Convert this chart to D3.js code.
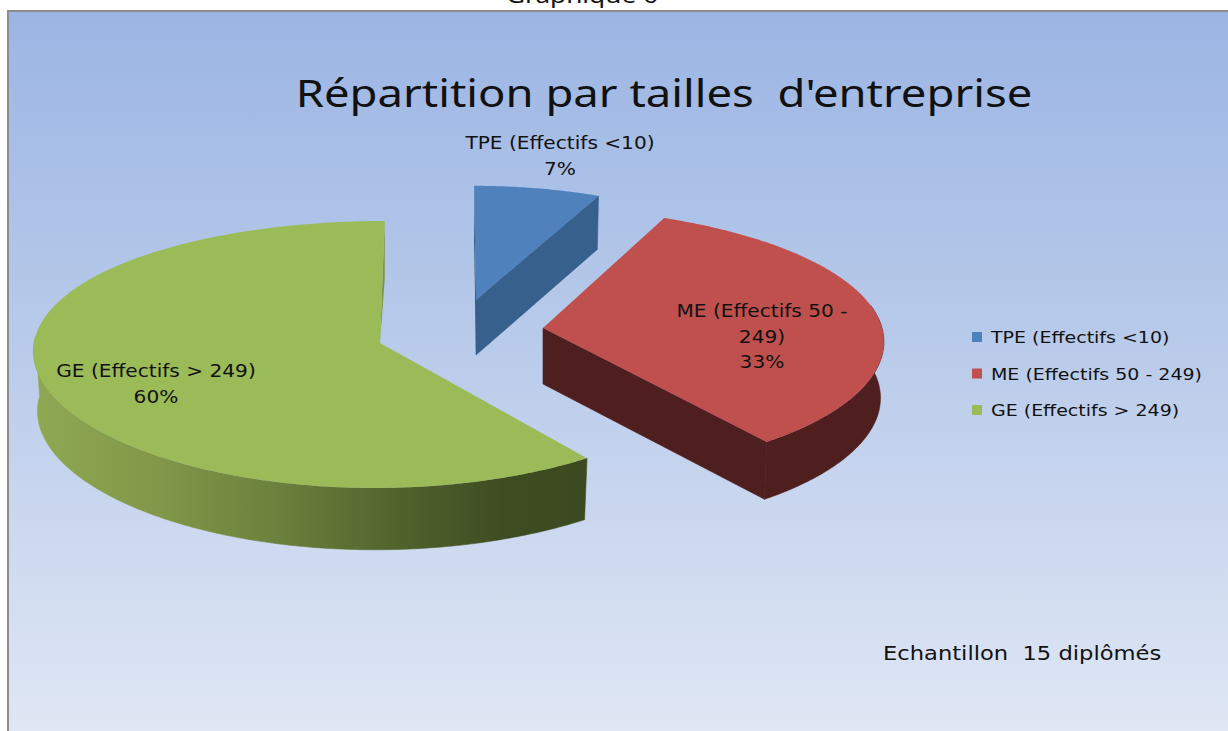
<!DOCTYPE html>
<html><head><meta charset="utf-8">
<script src="https://cdn.jsdelivr.net/npm/d3@7"></script>
<style>
html,body{margin:0;padding:0;background:#fff;overflow:hidden}
svg{display:block}
text{white-space:pre;fill:#111}
</style></head><body>
<svg id="c" width="1228" height="731"></svg>
<script>
const categories = ["TPE (Effectifs <10)", "ME (Effectifs 50 - 249)", "GE (Effectifs > 249)"];
const values = [7, 33, 60];
const labelLines = [["TPE (Effectifs <10)"], ["ME (Effectifs 50 -", "249)"], ["GE (Effectifs > 249)"]];
const topColors = ["#4f81bd", "#c0504d", "#9bbb59"];
const wallColors = ["#38608c", "#4e1f1e", "url(#geWall)"];
const titleText = "Répartition par tailles  d'entreprise";
const captionText = "Graphique 6";
const noteText = "Echantillon  15 diplômés";

const W = 1228, H = 731;
const svg = d3.select("#c");
const defs = svg.append("defs");
const bg = defs.append("linearGradient").attr("id","bg").attr("x1",0).attr("x2",0).attr("y1",0).attr("y2",1);
[[0,"#9bb5e3"],[0.5,"#bccdeb"],[1,"#e1e8f5"]].forEach(s=>bg.append("stop").attr("offset",s[0]).attr("stop-color",s[1]));
const gw = defs.append("linearGradient").attr("id","geWall").attr("gradientUnits","userSpaceOnUse")
  .attr("x1",35).attr("x2",590).attr("y1",0).attr("y2",0);
[[0,"#8fa852"],[0.2,"#83994a"],[0.45,"#6a7f3b"],[0.7,"#4c5d2a"],[0.85,"#3e4c21"],[1,"#3d4a21"]].forEach(s=>gw.append("stop").attr("offset",s[0]).attr("stop-color",s[1]));

svg.append("rect").attr("x",8).attr("y",11).attr("width",W).attr("height",H)
  .attr("fill","url(#bg)").attr("stroke","#8c8c8c").attr("stroke-width",2);

// text drawn wider than the font's natural width, as in the reference
function wideText(x, y, str, family, size, stretch, anchor){
  const t = svg.append("text").attr("x",x).attr("y",y).attr("text-anchor",anchor||"start")
    .attr("font-family",family).attr("font-size",size).text(str);
  const w = t.node().getComputedTextLength();
  t.attr("textLength",w*stretch).attr("lengthAdjust","spacingAndGlyphs");
  return t;
}
wideText(582,3,captionText,"Noto Sans",22,1.19,"middle");
wideText(664,107,titleText,"Noto Sans",39,1.165,"middle");

// one layout per slice: exploded apex and its perspective size
const layout = [
  {ax:476, ay:300, R:304, Ry:124,   k:0.086, kx:0.046, skew:-2,  depth:55, f:0.99,  wallFrom:90},
  {ax:543, ay:328, R:339, Ry:131,   k:0.086, kx:0.046, skew:-20, depth:56, f:0.99,  wallFrom:80},
  {ax:380, ay:343, R:346, Ry:132.5, k:0.086, kx:0.046, skew:5,   depth:60, f:0.988, wallFrom:90}
];
const pie = d3.pie().sort(null).value(d=>d).startAngle(0).endAngle(2*Math.PI);
const arcs = pie(values);
const lineGen = d3.line();

function proj(L, a, r, low){
  const u = r*Math.sin(a), v = r*Math.cos(a), s = 1/(1+L.k*v), sx = 1/(1+L.kx*v);
  const f = low ? L.f : 1;
  return [L.ax + (L.R*u*sx + L.skew*v*sx)*f, L.ay - L.Ry*v*s + (low ? L.depth*(1+0.03*(-v)) : 0)];
}
function arcPts(L, a0, a1, low){
  const n = Math.max(2, Math.ceil((a1-a0)/0.01));
  return d3.range(n+1).map(i=>proj(L, a0+(a1-a0)*i/n, 1, low));
}
[0,1,2].forEach(i=>{
  const L = layout[i], A = arcs[i], g = svg.append("g");
  const apex = [L.ax, L.ay], apexLow = [L.ax, L.ay+L.depth];
  if(i===0){
    g.append("path").attr("fill","#2f4f75").attr("d", lineGen([proj(L,A.startAngle,1,false),proj(L,A.startAngle,1,true),apexLow,apex])+"Z");
  }
  if(i===2){
    g.append("path").attr("fill","#7d9440").attr("d", lineGen([proj(L,A.endAngle,1,false),proj(L,A.endAngle,1,true),apex])+"Z");
  }
  const wf = L.wallFrom*Math.PI/180;
  const a0 = Math.max(A.startAngle, wf), a1 = Math.min(A.endAngle, 1.5*Math.PI+0.05);
  if(i!==0){
    g.append("path").attr("fill",wallColors[i]).attr("stroke",wallColors[i]).attr("stroke-width",0.6)
      .attr("d", lineGen(arcPts(L,a0,a1,false).concat(arcPts(L,a0,a1,true).reverse()))+"Z");
  }
  if(i<2){
    g.append("path").attr("fill",wallColors[i]).attr("stroke",wallColors[i]).attr("stroke-width",0.6)
      .attr("d", lineGen([apex,proj(L,A.endAngle,1,false),proj(L,A.endAngle,1,true),apexLow])+"Z");
  }
  g.append("path").attr("fill",topColors[i]).attr("d", lineGen([apex].concat(arcPts(L,A.startAngle,A.endAngle,false)))+"Z");
});

// data labels
const labelPos = [[560,149],[762,317],[156,377]];
const fmt = d=>d+"%";
labelLines.forEach((lines,i)=>{
  lines.concat([fmt(values[i])]).forEach((s,j)=>{
    wideText(labelPos[i][0],labelPos[i][1]+j*25.5,s,"DejaVu Sans",17.5,1.15,"middle");
  });
});

// legend
const ly = d3.scalePoint().domain(categories).range([337,410]);
categories.forEach((c,i)=>{
  svg.append("rect").attr("x",972).attr("y",ly(c)-5).attr("width",10).attr("height",10).attr("fill",topColors[i]);
  wideText(991,ly(c)+6,c,"DejaVu Sans",16.5,1.15);
});

wideText(883,660,noteText,"DejaVu Sans",19,1.19);
</script>
</body></html>
